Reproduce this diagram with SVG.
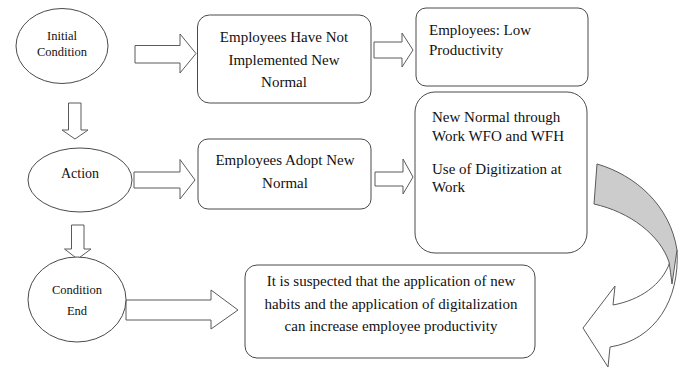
<svg xmlns="http://www.w3.org/2000/svg" width="680" height="367" viewBox="0 0 680 367">
  <defs>
    <style>
      .shape { fill: #ffffff; stroke: #4a4a4a; stroke-width: 1; }
      .arrow { fill: #ffffff; stroke: #5a5a5a; stroke-width: 1; stroke-linejoin: miter; }
      .back { fill: #cccccc; stroke: #5a5a5a; stroke-width: 1; }
      text { font-family: "Liberation Serif", "Times New Roman", serif; fill: #111111; }
      .t15 { font-size: 15px; }
      .mid { text-anchor: middle; }
    </style>
  </defs>
  <rect width="680" height="367" fill="#ffffff"/>

  <!-- connectors: block arrows -->
  <g id="connectors">
    <polygon class="arrow" points="135,45.5 180,45.5 180,34 196,53.5 180,73 180,63 135,63"/>
    <polygon class="arrow" points="374,42 402,42 402,33 413,50 402,67 402,58 374,58"/>
    <polygon class="arrow" points="68.5,103 81,103 81,130 88,130 75,139 62,130 68.5,130"/>
    <polygon class="arrow" points="134,172 180,172 180,159.5 195,180 180,199 180,188 134,188"/>
    <polygon class="arrow" points="375,172 403,172 403,159 413,177 403,194 403,186 375,186"/>
    <polygon class="arrow" points="71.5,225 84,225 84,249 91,249 77.5,259 64.5,249 71.5,249"/>
    <polygon class="arrow" points="126,300 211,300 211,290 238,310 211,329 211,320 126,320"/>
    <!-- curved return arrow -->
    <path class="arrow" d="M677,250 C680,300 655,340 610,347 L608,367 L583,328 L615,286 L613,305 C640,300 662,285 670,262 Z"/>
    <path class="back" d="M597,164 C635,175 670,205 677,250 L672,284 C671,276 670,268 669,262 C660,235 630,212 594,204 Z"/>
  </g>

  <g id="initial-condition">
    <ellipse class="shape" cx="62" cy="46" rx="46" ry="37.5"/>
    <text class="mid" x="62" y="39.5" font-size="12.5">Initial</text>
    <text class="mid" x="62" y="55.5" font-size="12.5">Condition</text>
  </g>

  <g id="not-implemented">
    <rect class="shape" x="197.5" y="15" width="173.5" height="88" rx="12"/>
    <text class="t15 mid" x="284" y="42">Employees Have Not</text>
    <text class="t15 mid" x="284" y="64.5">Implemented New</text>
    <text class="t15 mid" x="284" y="87">Normal</text>
  </g>

  <g id="low-productivity">
    <rect class="shape" x="416" y="8" width="172" height="78" rx="10"/>
    <text class="t15" x="429" y="35">Employees: Low</text>
    <text class="t15" x="429" y="54.5">Productivity</text>
  </g>

  <g id="action">
    <ellipse class="shape" cx="80" cy="180" rx="52" ry="32"/>
    <text class="mid" x="80" y="178" font-size="14">Action</text>
  </g>

  <g id="adopt-new-normal">
    <rect class="shape" x="198" y="139" width="173" height="70" rx="10"/>
    <text class="t15 mid" x="285" y="165">Employees Adopt New</text>
    <text class="t15 mid" x="285" y="188">Normal</text>
  </g>

  <g id="new-normal-work">
    <rect class="shape" x="415" y="92" width="172" height="161" rx="20"/>
    <text class="t15" x="432" y="122">New Normal through</text>
    <text class="t15" x="432" y="141">Work WFO and WFH</text>
    <text class="t15" x="432" y="174">Use of Digitization at</text>
    <text class="t15" x="432" y="192">Work</text>
  </g>

  <g id="condition-end">
    <ellipse class="shape" cx="77" cy="299.5" rx="49" ry="42.5"/>
    <text class="mid" x="77" y="294" font-size="12.5">Condition</text>
    <text class="mid" x="77" y="314.5" font-size="12.5">End</text>
  </g>

  <g id="expected-outcome">
    <rect class="shape" x="245" y="265" width="290" height="93" rx="12"/>
    <text class="t15 mid" x="391" y="286">It is suspected that the application of new</text>
    <text class="t15 mid" x="391" y="308.5">habits and the application of digitalization</text>
    <text class="t15 mid" x="391" y="331">can increase employee productivity</text>
  </g>
</svg>
